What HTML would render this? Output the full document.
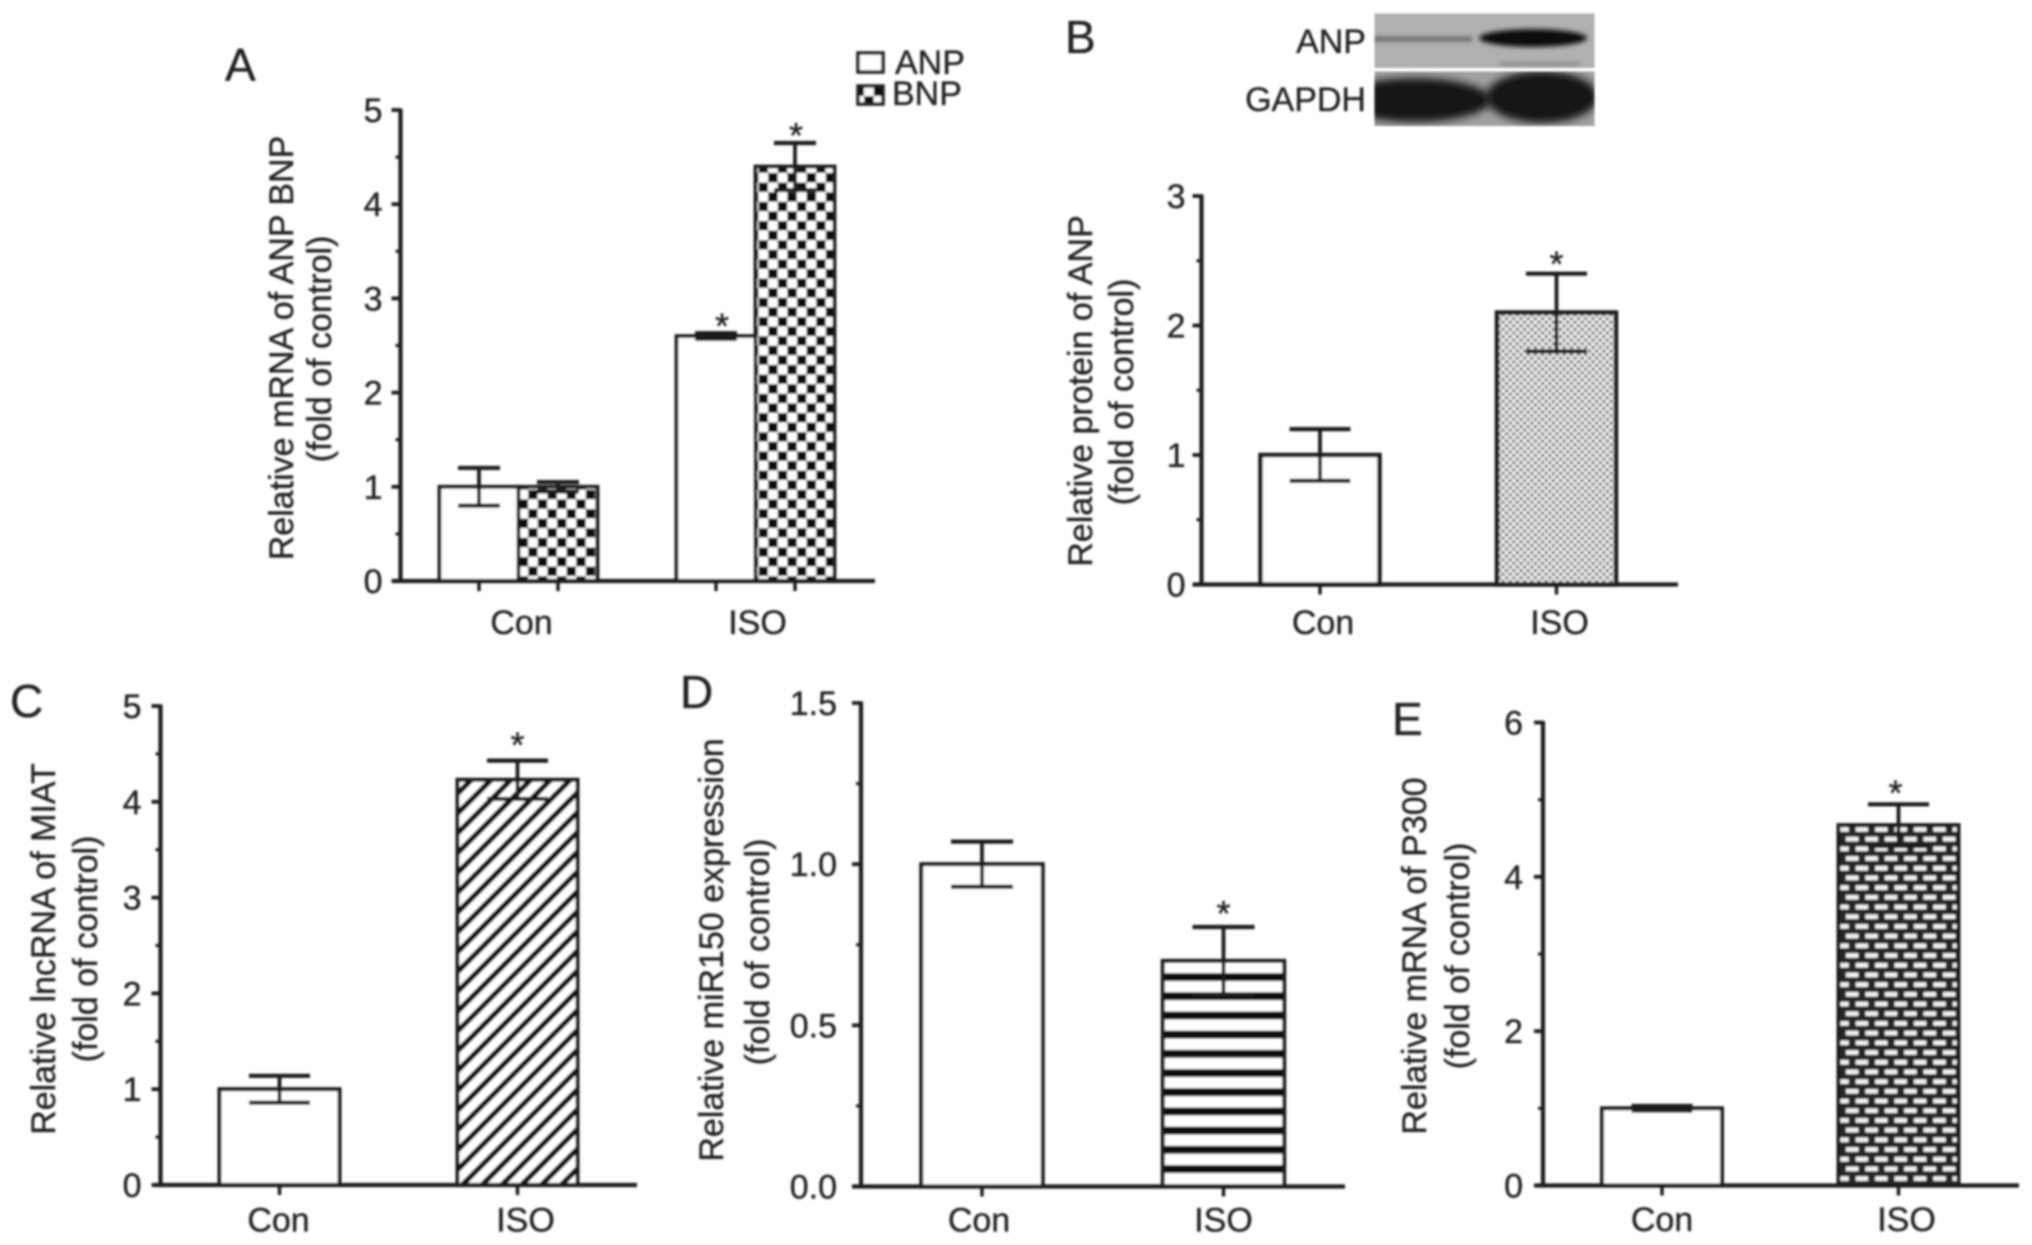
<!DOCTYPE html>
<html lang="en">
<head>
<meta charset="utf-8">
<title>Relative expression bar charts, panels A to E</title>
<style>
  html, body { margin: 0; padding: 0; background: #fff; }
  svg { display: block; }
  text { font-family: "Liberation Sans", Arial, sans-serif; fill: #222; stroke: #222; stroke-width: 0.35px; font-size: 34px; }
</style>
</head>
<body>
<svg id="figure" xmlns="http://www.w3.org/2000/svg" width="2032" height="1245" viewBox="0 0 2032 1245">
  <defs>
    <filter id="soft" filterUnits="userSpaceOnUse" x="0" y="0" width="2032" height="1245"><feGaussianBlur stdDeviation="1"/></filter>
    <filter id="blur4" filterUnits="userSpaceOnUse" x="1340" y="0" width="300" height="150"><feGaussianBlur stdDeviation="4"/></filter>
    <filter id="blur2" filterUnits="userSpaceOnUse" x="1340" y="0" width="300" height="150"><feGaussianBlur stdDeviation="2"/></filter>
    <clipPath id="blot-top-clip"><rect x="1374.5" y="13.5" width="220" height="54.5"/></clipPath>
    <clipPath id="blot-bottom-clip"><rect x="1374.5" y="71.5" width="220" height="54.5"/></clipPath>
    <pattern id="checker" patternUnits="userSpaceOnUse" width="19.2" height="19.2">
      <rect width="19.2" height="19.2" fill="#fff"/>
      <rect x="0.2" y="0.2" width="9.4" height="9.4" fill="#0c0c0c"/>
      <rect x="9.8" y="9.8" width="9.4" height="9.4" fill="#0c0c0c"/>
    </pattern>
    <pattern id="dots" patternUnits="userSpaceOnUse" width="7.2" height="7.2">
      <rect width="7.2" height="7.2" fill="#ececec"/>
      <circle cx="1.8" cy="1.8" r="1.7" fill="#777"/>
      <circle cx="5.4" cy="5.4" r="1.7" fill="#777"/>
    </pattern>
    <pattern id="hatch" patternUnits="userSpaceOnUse" width="14" height="14" patternTransform="rotate(45)">
      <rect width="14" height="14" fill="#fff"/>
      <rect x="0" y="0" width="5.4" height="14" fill="#111"/>
    </pattern>
    <pattern id="stripes" patternUnits="userSpaceOnUse" x="0" y="973" width="19.2" height="19.2">
      <rect width="19.2" height="19.2" fill="#fff"/>
      <rect x="0" y="0" width="19.2" height="8" fill="#0a0a0a"/>
    </pattern>
    <pattern id="bricks" patternUnits="userSpaceOnUse" width="19.4" height="19.4">
      <rect width="19.4" height="19.4" fill="#262626"/>
      <rect x="3" y="2.6" width="12.4" height="4.6" fill="#f2f2f2"/>
      <rect x="-6.7" y="12.3" width="12.4" height="4.6" fill="#f2f2f2"/>
      <rect x="12.7" y="12.3" width="12.4" height="4.6" fill="#f2f2f2"/>
    </pattern>
  </defs>
  <rect width="2032" height="1245" fill="#fff"/>
  <g id="plot-root" filter="url(#soft)">
    <text x="225" y="81" style="font-size:46px">A</text>
    <text x="1065" y="53" style="font-size:46px">B</text>
    <text x="10" y="717" style="font-size:46px">C</text>
    <text x="680" y="708" style="font-size:46px">D</text>
    <text x="1392" y="735" style="font-size:46px">E</text>

    <text text-anchor="middle" transform="translate(293 348) rotate(-90)">Relative mRNA of ANP BNP</text>
    <text text-anchor="middle" transform="translate(331 349) rotate(-90)">(fold of control)</text>
    <text text-anchor="middle" transform="translate(1092 391) rotate(-90)">Relative protein of ANP</text>
    <text text-anchor="middle" transform="translate(1133 392) rotate(-90)">(fold of control)</text>
    <text text-anchor="middle" transform="translate(55 949) rotate(-90)">Relative lncRNA of MIAT</text>
    <text text-anchor="middle" transform="translate(97 949) rotate(-90)">(fold of control)</text>
    <text text-anchor="middle" transform="translate(723 950) rotate(-90)">Relative miR150 expression</text>
    <text text-anchor="middle" transform="translate(769 952) rotate(-90)">(fold of control)</text>
    <text text-anchor="middle" transform="translate(1426 956) rotate(-90)">Relative mRNA of P300</text>
    <text text-anchor="middle" transform="translate(1469 956) rotate(-90)">(fold of control)</text>

    <g>
      <rect x="858" y="53" width="25" height="19" fill="#fff" stroke="#222" stroke-width="3.5"/>
      <text x="895" y="74">ANP</text>
      <rect x="858" y="86" width="25" height="18" fill="url(#checker)" stroke="#222" stroke-width="3.5"/>
      <text x="892" y="105">BNP</text>
    </g>

    <g>
      <text x="1366" y="53" text-anchor="end">ANP</text>
      <text x="1366" y="111" text-anchor="end">GAPDH</text>
      <g clip-path="url(#blot-top-clip)">
        <rect x="1374.5" y="13.5" width="220" height="54.5" fill="#b0b0b0"/>
        <rect x="1372" y="37" width="100" height="4" fill="#5a5a5a" filter="url(#blur2)"/>
        <ellipse cx="1533" cy="38" rx="54" ry="9" fill="#0e0e0e" filter="url(#blur2)"/>
        <rect x="1500" y="62" width="80" height="4" fill="#8c8c8c" filter="url(#blur2)"/>
      </g>
      <g clip-path="url(#blot-bottom-clip)">
        <rect x="1374.5" y="71.5" width="220" height="54.5" fill="#a0a0a0"/>
        <ellipse cx="1415" cy="100" rx="76" ry="22" fill="#141414" filter="url(#blur4)"/>
        <ellipse cx="1542" cy="97" rx="56" ry="26" fill="#121212" filter="url(#blur4)"/>
      </g>
    </g>
    <g id="charts"></g>
  </g>
</svg>
<script>
// Panel A
const aCategories = ['Con', 'ISO'];
const aAnpValues = [1.0, 2.6];
const aAnpErrors = [0.2, 0.03];
const aAnpStars = [false, true];
const aBnpValues = [1.0, 4.4];
const aBnpErrors = [0.05, 0.25];
const aBnpStars = [false, true];
const aTickValues = [0, 1, 2, 3, 4, 5];
const aTickLabels = ['0', '1', '2', '3', '4', '5'];
const aMinorTicks = [0.5, 1.5, 2.5, 3.5, 4.5];
// Panel B
const bCategories = ['Con', 'ISO'];
const bValues = [1.0, 2.1];
const bErrors = [0.2, 0.3];
const bStars = [false, true];
const bTickValues = [0, 1, 2, 3];
const bTickLabels = ['0', '1', '2', '3'];
const bMinorTicks = [0.5, 1.5, 2.5];
// Panel C
const cCategories = ['Con', 'ISO'];
const cValues = [1.0, 4.23];
const cErrors = [0.14, 0.2];
const cStars = [false, true];
const cTickValues = [0, 1, 2, 3, 4, 5];
const cTickLabels = ['0', '1', '2', '3', '4', '5'];
const cMinorTicks = [0.5, 1.5, 2.5, 3.5, 4.5];
// Panel D
const dCategories = ['Con', 'ISO'];
const dValues = [1.0, 0.7];
const dErrors = [0.07, 0.105];
const dStars = [false, true];
const dTickValues = [0, 0.5, 1, 1.5];
const dTickLabels = ['0.0', '0.5', '1.0', '1.5'];
const dMinorTicks = [0.25, 0.75, 1.25];
// Panel E
const eCategories = ['Con', 'ISO'];
const eValues = [1.0, 4.67];
const eErrors = [0.03, 0.27];
const eStars = [false, true];
const eTickValues = [0, 2, 4, 6];
const eTickLabels = ['0', '2', '4', '6'];
const eMinorTicks = [1, 3, 5];

const NS = 'http://www.w3.org/2000/svg';
const INK = '#1e1e1e';
const charts = document.getElementById('charts');

function shape(parent, tag, attrs) {
  const node = document.createElementNS(NS, tag);
  for (const key in attrs) node.setAttribute(key, attrs[key]);
  parent.appendChild(node);
  return node;
}

function hLine(parent, x1, x2, y, width) {
  return shape(parent, 'line', { x1: x1, x2: x2, y1: y, y2: y, stroke: INK, 'stroke-width': width });
}

function vLine(parent, x, y1, y2, width) {
  return shape(parent, 'line', { x1: x, x2: x, y1: y1, y2: y2, stroke: INK, 'stroke-width': width });
}

function drawPanel(p) {
  const yScale = function (v) { return p.y0 - (v / p.yMax) * (p.y0 - p.yTop); };
  const xScale = function (g, s) { return p.groupStart + g * p.groupStep + s * p.seriesStep; };

  const panel = shape(charts, 'g', {});
  
  

  p.series.forEach(function (series, s) {
    series.values.forEach(function (value, g) {
      const cx = xScale(g, s);
      const top = yScale(value);
      const bar = shape(panel, 'rect', {
        x: cx - p.barWidth / 2, y: top, width: p.barWidth, height: p.y0 - top,
        fill: series.fill(g), stroke: INK, 'stroke-width': p.barStroke
      });
      
      
    });
  });

  p.series.forEach(function (series, s) {
    series.values.forEach(function (value, g) {
      const cx = xScale(g, s);
      const hi = yScale(value + series.errors[g]);
      const lo = yScale(value - series.errors[g]);
      const err = shape(panel, 'g', {});
      
      
      vLine(err, cx, hi, lo, 3.8);
      hLine(err, cx - p.capWidth / 2, cx + p.capWidth / 2, hi, 4.2);
      hLine(err, cx - p.capWidth / 2, cx + p.capWidth / 2, lo, 4.2);
      if (series.stars[g]) {
        const star = shape(panel, 'text', { x: cx + series.starShift, y: hi - p.starGap + 20, 'text-anchor': 'middle', style: 'font-size:36px' });
        star.textContent = '*';
        
        
      }
    });
  });

  const yAxis = vLine(panel, p.axisX, p.yTop - 1.5, p.y0 + 1.5, 4.2);
  
  
  const xAxis = hLine(panel, p.axisLeft, p.axisRight, p.y0, 4.2);
  
  

  p.tickValues.forEach(function (v, i) {
    const y = yScale(v);
    const tick = hLine(panel, p.axisX - 9, p.axisX, y, 3.8);
    
    
    const label = shape(panel, 'text', { x: p.axisX - p.labelGap, y: y + 12, 'text-anchor': 'end' });
    label.textContent = p.tickLabels[i];
    
    
  });

  p.minorTicks.forEach(function (v) {
    const minor = hLine(panel, p.axisX - 5, p.axisX, yScale(v), 3);
    
    
  });

  p.categories.forEach(function (name, g) {
    let sum = 0;
    p.series.forEach(function (series, s) {
      const cx = xScale(g, s);
      sum += cx;
      const tick = vLine(panel, cx, p.y0, p.y0 + 10, 3.5);
      
      
    });
    const label = shape(panel, 'text', {
      x: sum / p.series.length + p.labelShift + g * p.labelDrift, y: p.labelBaseline, 'text-anchor': 'middle'
    });
    label.textContent = name;
    
    
  });
}

drawPanel({
  id: 'a', categories: aCategories, tickValues: aTickValues, tickLabels: aTickLabels, minorTicks: aMinorTicks,
  axisX: 400.5, axisLeft: 393, axisRight: 875, yTop: 110, y0: 581, yMax: 5,
  groupStart: 479, groupStep: 237, seriesStep: 79, barWidth: 79, barStroke: 3.8, capWidth: 42, starGap: 15,
  labelGap: 18, labelBaseline: 634, labelShift: 3, labelDrift: -1,
  series: [
    { name: 'anp', values: aAnpValues, errors: aAnpErrors, stars: aAnpStars, starShift: 6, fill: function () { return '#fff'; } },
    { name: 'bnp', values: aBnpValues, errors: aBnpErrors, stars: aBnpStars, starShift: 1, fill: function () { return 'url(#checker)'; } }
  ]
});
drawPanel({
  id: 'b', categories: bCategories, tickValues: bTickValues, tickLabels: bTickLabels, minorTicks: bMinorTicks,
  axisX: 1201.5, axisLeft: 1193, axisRight: 1678, yTop: 196, y0: 584.5, yMax: 3,
  groupStart: 1320, groupStep: 236.5, seriesStep: 0, barWidth: 119, barStroke: 4.5, capWidth: 61, starGap: 17,
  labelGap: 16, labelBaseline: 634, labelShift: 3, labelDrift: 0,
  series: [
    { name: 'protein', values: bValues, errors: bErrors, stars: bStars, starShift: 0, fill: function (g) { return g === 0 ? '#fff' : 'url(#dots)'; } }
  ]
});
drawPanel({
  id: 'c', categories: cCategories, tickValues: cTickValues, tickLabels: cTickLabels, minorTicks: cMinorTicks,
  axisX: 160.5, axisLeft: 154, axisRight: 637, yTop: 706, y0: 1185, yMax: 5,
  groupStart: 279.5, groupStep: 238, seriesStep: 0, barWidth: 120, barStroke: 4, capWidth: 61, starGap: 23,
  labelGap: 19, labelBaseline: 1231.5, labelShift: -1, labelDrift: 9,
  series: [
    { name: 'lncrna', values: cValues, errors: cErrors, stars: cStars, starShift: 0, fill: function (g) { return g === 0 ? '#fff' : 'url(#hatch)'; } }
  ]
});
drawPanel({
  id: 'd', categories: dCategories, tickValues: dTickValues, tickLabels: dTickLabels, minorTicks: dMinorTicks,
  axisX: 861, axisLeft: 852, axisRight: 1345, yTop: 703, y0: 1186.5, yMax: 1.5,
  groupStart: 982, groupStep: 241.5, seriesStep: 0, barWidth: 121.5, barStroke: 4, capWidth: 62, starGap: 21,
  labelGap: 24, labelBaseline: 1231.5, labelShift: -3, labelDrift: 3,
  series: [
    { name: 'mir150', values: dValues, errors: dErrors, stars: dStars, starShift: 0, fill: function (g) { return g === 0 ? '#fff' : 'url(#stripes)'; } }
  ]
});
drawPanel({
  id: 'e', categories: eCategories, tickValues: eTickValues, tickLabels: eTickLabels, minorTicks: eMinorTicks,
  axisX: 1543, axisLeft: 1535.5, axisRight: 2019, yTop: 722.5, y0: 1185.5, yMax: 6,
  groupStart: 1662, groupStep: 236.5, seriesStep: 0, barWidth: 120, barStroke: 4, capWidth: 61, starGap: 19,
  labelGap: 20, labelBaseline: 1231, labelShift: 0, labelDrift: 8,
  series: [
    { name: 'p300', values: eValues, errors: eErrors, stars: eStars, starShift: -3, fill: function (g) { return g === 0 ? '#fff' : 'url(#bricks)'; } }
  ]
});
</script>
</body>
</html>
